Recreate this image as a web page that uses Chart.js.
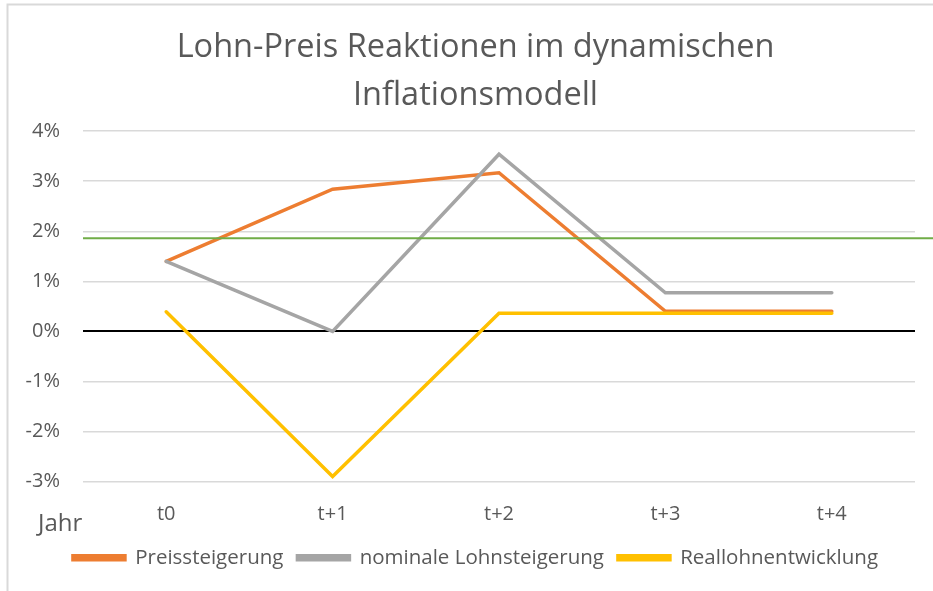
<!DOCTYPE html>
<html>
<head>
<meta charset="utf-8">
<script src="https://cdn.jsdelivr.net/npm/chart.js@4"></script>
<style>
  html, body { margin: 0; padding: 0; background: #fff; }
  #wrap { width: 933px; height: 591px; }
</style>
</head>
<body>
<div id="wrap"><canvas id="chart" width="933" height="591"></canvas></div>
<script>
const categories = ["t0", "t+1", "t+2", "t+3", "t+4"];
const preissteigerung = [1.4, 2.84, 3.17, 0.4, 0.4];
const nominaleLohnsteigerung = [1.4, 0.0, 3.54, 0.77, 0.77];
const reallohnentwicklung = [0.39, -2.9, 0.36, 0.36, 0.36];
const zielLinie = [1.86];
const yTicks = [-3, -2, -1, 0, 1, 2, 3, 4];

const FONT = "'Open Sans', sans-serif";
const TEXT = "#595959";

// frame, green reference line and the "Jahr" label
const extras = {
  id: "extras",
  beforeDraw(chart) {
    const c = chart.ctx;
    c.save();
    c.strokeStyle = "#d9d9d9";
    c.lineWidth = 2;
    c.beginPath();
    c.moveTo(7.5, 591);
    c.lineTo(7.5, 4.5);
    c.lineTo(933, 4.5);
    c.stroke();
    c.restore();
  },
  afterDatasetsDraw(chart) {
    const c = chart.ctx;
    const y = chart.scales.y.getPixelForValue(zielLinie[0]);
    c.save();
    c.strokeStyle = "#70ad47";
    c.lineWidth = 2;
    c.beginPath();
    c.moveTo(chart.chartArea.left, y);
    c.lineTo(chart.width, y);
    c.stroke();
    c.fillStyle = TEXT;
    c.font = "24px " + FONT;
    c.textBaseline = "middle";
    c.fillText("Jahr", 38, 524);
    c.restore();
  }
};

new Chart(document.getElementById("chart"), {
  type: "line",
  data: {
    labels: categories,
    datasets: [
      { label: "Preissteigerung", data: preissteigerung, borderColor: "#ed7d31", backgroundColor: "#ed7d31", order: 3 },
      { label: "nominale Lohnsteigerung", data: nominaleLohnsteigerung, borderColor: "#a5a5a5", backgroundColor: "#a5a5a5", order: 2 },
      { label: "Reallohnentwicklung", data: reallohnentwicklung, borderColor: "#ffc000", backgroundColor: "#ffc000", order: 1 }
    ]
  },
  options: {
    responsive: false,
    animation: false,
    // negative right padding shifts the title/legend centre to match the reference
    layout: { padding: { top: 10, bottom: 13, left: 0, right: -18 } },
    elements: {
      line: { borderWidth: 3.5, tension: 0, borderCapStyle: "round", borderJoinStyle: "miter" },
      point: { radius: 0 }
    },
    plugins: {
      title: {
        display: true,
        text: ["Lohn-Preis Reaktionen im dynamischen", "Inflationsmodell"],
        color: TEXT,
        font: { family: FONT, size: 32.5, weight: "normal", lineHeight: 1.48 },
        padding: { top: 14, bottom: 11 }
      },
      legend: {
        position: "bottom",
        labels: {
          color: TEXT,
          font: { family: FONT, size: 20.5 },
          boxWidth: 52,
          boxHeight: 4,
          padding: 14,
          sort: (a, b) => a.datasetIndex - b.datasetIndex
        }
      },
      tooltip: { enabled: false }
    },
    scales: {
      x: {
        offset: true,
        grid: { display: false },
        border: { display: false },
        ticks: { color: TEXT, font: { family: FONT, size: 20 }, padding: 13 },
        afterFit(s) { s.height = 52; }
      },
      y: {
        min: -3,
        max: 4,
        afterBuildTicks(s) { s.ticks = yTicks.map(v => ({ value: v })); },
        border: { display: false },
        grid: {
          drawTicks: false,
          color: ctx => ctx.tick && ctx.tick.value === 0 ? "#000000" : "#d9d9d9",
          lineWidth: ctx => ctx.tick && ctx.tick.value === 0 ? 2 : 1.5
        },
        ticks: {
          color: TEXT,
          font: { family: FONT, size: 20 },
          padding: 23,
          callback: v => v + "%"
        },
        afterFit(s) { s.width = 83; }
      },
      rechts: {
        position: "right",
        min: -3,
        max: 4,
        grid: { display: false },
        border: { display: false },
        ticks: { display: false },
        afterFit(s) { s.width = 36; }
      }
    }
  },
  plugins: [extras]
});
</script>
</body>
</html>
